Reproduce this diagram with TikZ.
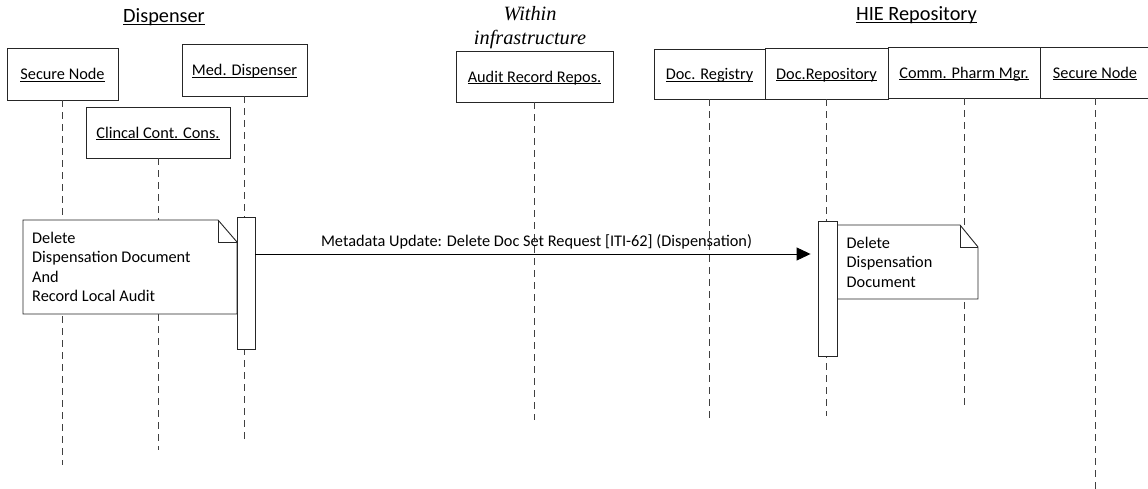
\documentclass[tikz,border=0pt]{standalone}
\usepackage{fontspec}
\setmainfont{Carlito}
\newfontfamily\timesfam{Liberation Serif}
\usetikzlibrary{arrows.meta}
\newcommand\ulined[1]{\setbox0\hbox{#1}\rlap{\rule[-2.1pt]{\wd0}{0.9pt}}\box0}
\begin{document}
\begin{tikzpicture}[x=1pt,y=-1pt,
  actor/.style={draw=black!85, line width=0.9pt, fill=white, minimum width=#1,
    minimum height=51pt, inner sep=0pt, text height=11.5pt, text depth=0pt,
    font=\fontsize{16.3}{19.6}\selectfont},
  lifeline/.style={draw=black!75, line width=0.9pt, dash pattern=on 7pt off 5pt},
  actbox/.style={draw=black!85, fill=white, line width=0.9pt, inner sep=0pt},
  notebox/.style={draw=black!85, fill=white, line width=0.9pt},
  notetext/.style={anchor=north west, inner sep=0pt, align=left,
    font=\fontsize{16.3}{19.6}\selectfont},
  title/.style={anchor=base, inner sep=0pt, font=\fontsize{20.3}{24}\selectfont},
  msg/.style={line width=0.9pt, -{Triangle[length=14pt,width=13pt]}}
]
\useasboundingbox (0,0) rectangle (1148,489);

% titles
\node[title] (t1) at (164,23) {\ulined{Dispenser}};
\node[title] (t2) at (916.5,21) {\ulined{HIE Repository}};
\node[anchor=north, inner sep=0pt, align=center,
  font=\timesfam\itshape\fontsize{20.3}{24.5}\selectfont] (t3) at (530,6.2) {Within\\infrastructure};

% participants
\node[actor=111pt, minimum height=52pt] (sn1) at (62.5,74) {\ulined{Secure Node}};
\node[actor=125pt, minimum height=52pt] (md) at (244.5,70) {\ulined{Med. Dispenser}};
\node[actor=144pt] (ccc) at (158,132.5) {\ulined{Clincal Cont. Cons.}};
\node[actor=157pt] (arr) at (534.5,76.5) {\ulined{Audit Record Repos.}};
\node[actor=111pt, minimum height=50pt] (reg) at (709.5,74) {\ulined{Doc. Registry}};
\node[actor=123pt] (rep) at (826.5,73.5) {\ulined{Doc.Repository}};
\node[actor=152pt] (cpm) at (964,72.5) {\ulined{Comm. Pharm Mgr.}};
\node[actor=110pt] (sn2) at (1095,72.5) {\ulined{Secure Node}};

% lifeline ends
\coordinate (sn1e) at (62.5,465);
\coordinate (mde) at (244.5,443);
\coordinate (ccce) at (158,450);
\coordinate (arre) at (534.5,420);
\coordinate (rege) at (709.5,420);
\coordinate (repe) at (826.5,416);
\coordinate (cpme) at (964,406);
\coordinate (sn2e) at (1095,492);

\draw[lifeline] (sn1.south) -- (sn1e);
\draw[lifeline] (md.south) -- (mde);
\draw[lifeline] (ccc.south) -- (ccce);
\draw[lifeline] (arr.south) -- (arre);
\draw[lifeline] (reg.south) -- (rege);
\draw[lifeline] (rep.south) -- (repe);
\draw[lifeline] (cpm.south) -- (cpme);
\draw[lifeline] (sn2.south) -- (sn2e);

% left note
\draw[notebox] (23,220) -- (218,220) -- (237,242) -- (237,314) -- (23,314) -- cycle;
\draw[notebox, fill=none] (218,220) -- (218,242) -- (237,242);
\node[notetext] (n1) at (32,231.5) {Delete\\Dispensation Document\\And\\Record Local Audit};

% right note
\draw[notebox] (837,225) -- (960,225) -- (978,247) -- (978,299) -- (837,299) -- cycle;
\draw[notebox, fill=none] (960,225) -- (960,247) -- (978,247);
\node[notetext] (n2) at (846.5,236.5) {Delete\\Dispensation\\Document};

% activations
\node[actbox, minimum width=18pt, minimum height=132pt] (a1) at (246,283) {};
\node[actbox, minimum width=19pt, minimum height=135pt] (a2) at (827.5,288.5) {};

% message
\draw[msg, shorten >=7pt] (a1.east |- 0,254) -- node[pos=0.5, anchor=base, yshift=8pt, inner sep=0pt,
  font=\fontsize{16.3}{19.6}\selectfont] (m1) {Metadata Update: Delete Doc Set Request [ITI-62] (Dispensation)} (a2.west |- 0,254);
\end{tikzpicture}
\end{document}
